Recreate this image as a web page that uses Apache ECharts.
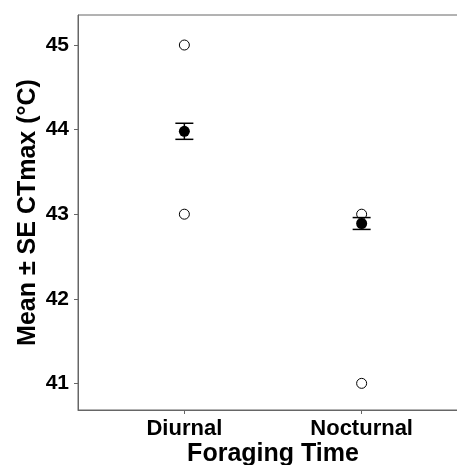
<!DOCTYPE html>
<html>
<head>
<meta charset="utf-8">
<script src="https://cdn.jsdelivr.net/npm/echarts@6/dist/echarts.min.js"></script>
<style>html,body{margin:0;padding:0;background:#fff}#c{width:457px;height:465px}</style>
</head>
<body>
<div id="c"></div>
<script>
const categories = ['Diurnal', 'Nocturnal'];
const meanValues = [43.98, 42.89];
const seValues = [0.095, 0.07];
const diurnalPoints = [45, 43];
const nocturnalPoints = [43, 41];
const yTicks = [41, 42, 43, 44, 45];
const xTicks = [1, 2];

const rawData = [];
diurnalPoints.forEach(v => rawData.push([1, v]));
nocturnalPoints.forEach(v => rawData.push([2, v]));
const meanData = meanValues.map((m, i) => [i + 1, m]);
const errData = meanValues.map((m, i) => [i + 1, m - seValues[i], m + seValues[i]]);

const FONT = 'Liberation Sans';
const AX = '#666666';

const chart = echarts.init(document.getElementById('c'), null, {renderer: 'canvas'});
chart.setOption({
  animation: false,
  grid: {left: 78, top: 15, bottom: 55, right: -11, show: true, borderColor: AX, borderWidth: 1,
    backgroundColor: 'transparent', containLabel: false, outerBoundsMode: 'none'},
  xAxis: {
    type: 'value', min: 0.4, max: 2.6,
    name: 'Foraging Time', nameLocation: 'middle', nameGap: 32, nameMoveOverlap: false,
    nameTextStyle: {fontFamily: FONT, fontWeight: 'bold', fontSize: 25, color: '#000'},
    axisLine: {show: true, lineStyle: {color: AX, width: 1}},
    axisTick: {show: true, length: 4, customValues: xTicks, lineStyle: {color: AX}},
    axisLabel: {customValues: xTicks, margin: 8, fontFamily: FONT, fontWeight: 'bold', fontSize: 22, color: '#000',
      formatter: v => categories[Math.round(v) - 1] || ''},
    splitLine: {show: false}
  },
  yAxis: {
    type: 'value', min: 40.685, max: 45.355,
    name: 'Mean ± SE CTmax (°C)', nameLocation: 'middle', nameGap: 37, nameMoveOverlap: false,
    nameTextStyle: {fontFamily: FONT, fontWeight: 'bold', fontSize: 25, color: '#000'},
    axisLine: {show: true, lineStyle: {color: AX, width: 1}},
    axisTick: {show: true, length: 4, customValues: yTicks, lineStyle: {color: AX}},
    axisLabel: {customValues: yTicks, margin: 9, fontFamily: FONT, fontWeight: 'bold', fontSize: 21, color: '#000'},
    splitLine: {show: false}
  },
  series: [
    {
      type: 'scatter', data: rawData, symbol: 'circle', symbolSize: 10, z: 2,
      itemStyle: {color: '#fff', borderColor: '#000', borderWidth: 1, opacity: 1}
    },
    {
      type: 'custom', z: 3, data: errData,
      renderItem: function (params, api) {
        const x = api.value(0);
        const lo = api.coord([x, api.value(1)]);
        const hi = api.coord([x, api.value(2)]);
        const hw = 9;
        const st = {stroke: '#000', lineWidth: 1.5};
        return {type: 'group', children: [
          {type: 'line', shape: {x1: lo[0], y1: lo[1], x2: hi[0], y2: hi[1]}, style: st},
          {type: 'line', shape: {x1: lo[0] - hw, y1: lo[1], x2: lo[0] + hw, y2: lo[1]}, style: st},
          {type: 'line', shape: {x1: hi[0] - hw, y1: hi[1], x2: hi[0] + hw, y2: hi[1]}, style: st}
        ]};
      }
    },
    {
      type: 'scatter', data: meanData, symbol: 'circle', symbolSize: 11, z: 4,
      itemStyle: {color: '#000', opacity: 1}
    }
  ]
});
</script>
</body>
</html>
